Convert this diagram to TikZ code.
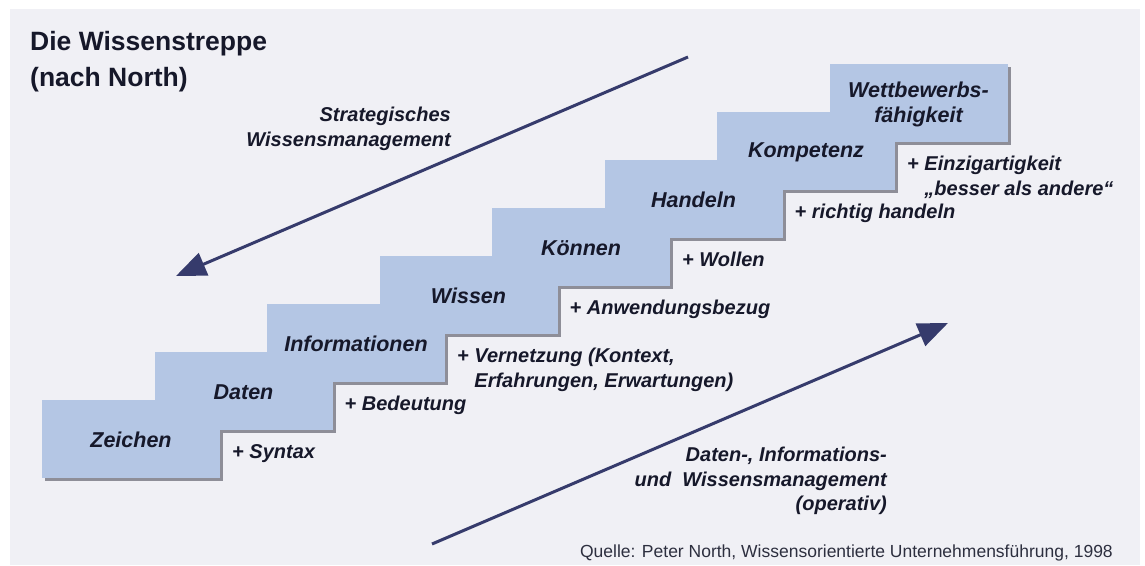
\documentclass[tikz,border=0pt]{standalone}
\usepackage{fontspec}
\setmainfont{Liberation Sans}
\usetikzlibrary{positioning, arrows.meta}

\definecolor{panelgray}{HTML}{F0F0F5}
\definecolor{stepblue}{HTML}{B4C6E4}
\definecolor{shadowgray}{HTML}{8E8E98}
\definecolor{arrownavy}{HTML}{363B6C}
\definecolor{textdark}{HTML}{16182A}

\begin{document}
\begin{tikzpicture}[x=1pt, y=-1pt,
    notelabel/.style={font=\fontsize{20}{24.5}\selectfont\bfseries\itshape, text=textdark, inner sep=0pt, anchor=north west, align=left},
    steplabel/.style={font=\fontsize{21.5}{25}\selectfont\bfseries\itshape, text=textdark, inner sep=0pt, align=center},
    arrowlabel/.style={notelabel, anchor=north east, align=right},
    bigarrow/.style={draw=arrownavy, line width=3pt, -{Triangle[length=30pt, width=24pt]}}]
    % Panel
    \useasboundingbox (0,0) rectangle (1145,565);
    \fill[panelgray] (10,9) rectangle (1140,565);

    % Steps
    \foreach \i in {0,...,7}
        \fill[shadowgray] ({45+112.5*\i},{403-48*\i}) rectangle ++(178,78);
    \foreach \i in {0,...,7}
        \fill[stepblue] ({42+112.5*\i},{400-48*\i}) rectangle ++(178,78);

    % Step names
    \foreach \i/\txt in {0/Zeichen, 1/Daten, 2/Informationen, 3/Wissen, 4/Können,
                         5/Handeln, 6/Kompetenz, 7/{Wettbewerbs-\\fähigkeit}}
        \node[steplabel] (step\i) at ({131+112.5*\i},{440-48*\i}) {\txt};

    % Additions
    \foreach \i/\txt in {0/{+ Syntax}, 1/{+ Bedeutung},
                         2/{+ Vernetzung (Kontext,\\\phantom{+ }Erfahrungen, Erwartungen)},
                         3/{+ Anwendungsbezug}, 4/{+ Wollen}, 5/{+ richtig handeln},
                         6/{+ Einzigartigkeit\\\phantom{+ }„besser als andere“}}
        \node[notelabel] (note\i) at ({232+112.5*\i},{444-48*\i}) {\txt};

    % Arrows
    \coordinate (strat tail) at (688,57);
    \coordinate (strat tip) at (176,276);
    \coordinate (oper tail) at (432,544);
    \coordinate (oper tip) at (948,323);
    \draw[bigarrow] (strat tail) -- (strat tip);
    \draw[bigarrow] (oper tail) -- (oper tip);
    \node[arrowlabel] (strat text) at (451,107) {Strategisches\\Wissensmanagement};
    \node[arrowlabel] (oper text) at (887,447) {Daten-, Informations-\\und~~Wissensmanagement\\(operativ)};

    % Title and source
    \node[font=\fontsize{26.5}{36}\selectfont\bfseries, text=textdark, anchor=north west, align=left, inner sep=0pt]
        (title) at (30,31) {Die Wissenstreppe\\(nach North)};
    \node[font=\fontsize{17.5}{20}\selectfont, text=textdark!90, anchor=base east, inner sep=0pt]
        (source) at (1113,557) {Quelle: Peter North, Wissensorientierte Unternehmensführung, 1998};
\end{tikzpicture}
\end{document}
